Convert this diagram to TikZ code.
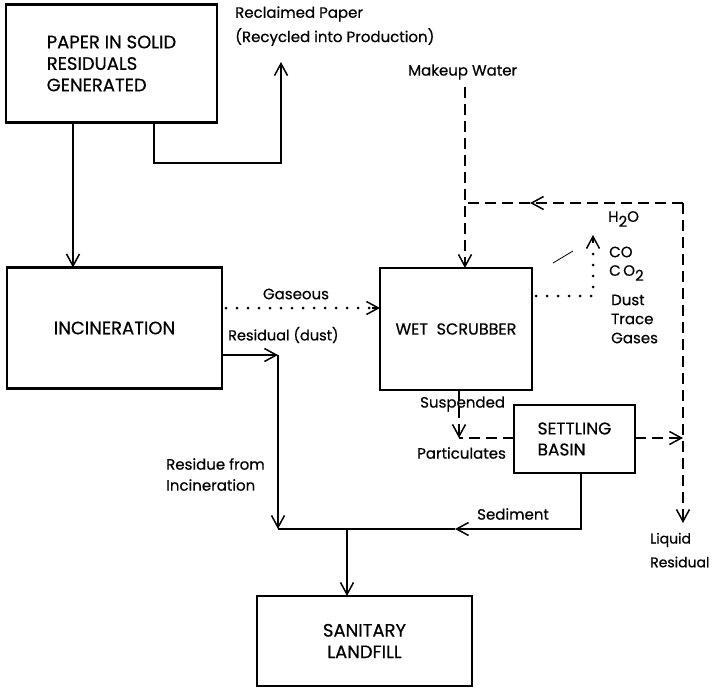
\documentclass[tikz,border=0pt]{standalone}
\usepackage{fontspec}
\setmainfont{Poppins}[FakeBold=0.5]
\usetikzlibrary{arrows.meta}
\begin{document}
\begin{tikzpicture}[x=1pt,y=-1pt,
  box/.style={draw, line width=2.2pt, inner sep=0pt, outer sep=0pt, align=left,
    font=\fontsize{18}{21.5}\selectfont},
  lbl/.style={font=\fontsize{15}{21}\selectfont, inner sep=0pt, anchor=west},
  tip/.style={-{Straight Barb[length=12pt,width=13pt,line width=1.5pt]}},
  solidc/.style={line width=1.3pt},
  dashc/.style={line width=1.4pt, dash pattern=on 11pt off 6pt},
  dotc/.style={line width=3pt, line cap=round, dash pattern=on 0pt off 11pt},
]
\useasboundingbox (0,0) rectangle (716,688);

% boxes
\node[box, minimum width=211pt, minimum height=118pt] (paper) at (111.5,63.5)
  {PAPER IN SOLID\\RESIDUALS\\GENERATED};
\node[box, minimum width=215pt, minimum height=121pt] (incin) at (114.5,328)
  {INCINERATION};
\node[box, font=\fontsize{16}{20}\selectfont, minimum width=152pt, minimum height=122pt] (scrub) at (456,329)
  {WET\ \ SCRUBBER};
\node[box, font=\fontsize{17}{21}\selectfont, minimum width=121pt, minimum height=68pt] (basin) at (574.5,439)
  {SETTLING\\BASIN};
\node[box, align=center, minimum width=215pt, minimum height=90pt] (land) at (364.5,641)
  {SANITARY\\LANDFILL};

% coordinates
\coordinate (xa) at (73,0);
\coordinate (xr) at (154,0);
\coordinate (rc1) at (154,163);
\coordinate (rc2) at (281,163);
\coordinate (rtop) at (281,62);
\coordinate (ygas) at (0,308);
\coordinate (gs) at (226,308);
\coordinate (ga) at (372,308);
\coordinate (ydust) at (0,355);
\coordinate (dj) at (278,355);
\coordinate (dbot) at (278,529);
\coordinate (xs) at (581,0);
\coordinate (sc) at (581,529);
\coordinate (sarr) at (455,529);
\coordinate (xl) at (347,0);
\coordinate (lj) at (347,529);
\coordinate (sg) at (536,296);
\coordinate (gc) at (593,296);
\coordinate (gb) at (593,243);
\coordinate (gtop) at (593,235);
\coordinate (mw) at (465,87);
\coordinate (rw) at (683,203);
\coordinate (rarr) at (530,203);
\coordinate (rj) at (465,203);
\coordinate (liq) at (683,523);
\coordinate (xsu) at (459,0);
\coordinate (sp) at (459,438);
\coordinate (bj) at (683,438);

% solid connectors
\draw[solidc, tip] (paper.south -| xa) -- (incin.north -| xa);
\draw[solidc, tip] (paper.south -| xr) -- (rc1) -- (rc2) -- (rtop);
\draw[solidc, tip] (incin.east |- ydust) -- (dj);
\draw[solidc, tip] (dj) -- (dbot);
\draw[solidc, tip] (basin.south -| xs) -- (sc) -- (sarr);
\draw[solidc] (sarr) -- (dbot);
\draw[solidc, tip] (lj) -- (land.north -| xl);

% dotted connectors
\draw[dotc] (gs) -- (ga);
\draw[solidc, tip] (ga) -- (scrub.west |- ygas);
\draw[dotc] (sg) -- (gc) -- (gb);
\draw[solidc, tip] (gb) -- (gtop);

% dashed connectors
\draw[dashc, tip] (mw) -- (scrub.north -| mw);
\draw[dashc, tip] (rw) -- (rarr);
\draw[dashc] (rarr) -- (rj);
\draw[dashc, tip] (rw) -- (liq);
\draw[dashc, tip] (scrub.south -| xsu) -- (sp);
\draw[dashc] (basin.west |- sp) -- (sp);
\draw[dashc, tip] (basin.east |- sp) -- (bj);

% stray tick
\draw[line width=0.8pt] (553,263) -- (573,251);

% labels
\node[lbl] (l1) at (235,14) {Reclaimed Paper};
\node[lbl] (l2) at (235,37) {(Recycled into Production)};
\node[lbl] (l3) at (408,72) {Makeup Water};
\node[lbl, anchor=center] (l4) at (296,294) {Gaseous};
\node[lbl, font=\fontsize{14.5}{20}\selectfont] (l5) at (228,335) {Residual (dust)};
\node[lbl, align=left, anchor=north west] (l6) at (166,458) {Residue from\\Incineration};
\node[lbl] (l7) at (477,514) {Sediment};
\node[lbl] (l8) at (420,404) {Suspended};
\node[lbl] (l9) at (417,453) {Particulates};
\node[lbl] (g1) at (608,219) {H\raisebox{-5pt}{2}O};
\node[lbl] (g2) at (609,252) {CO};
\node[lbl] (g3) at (609,273) {C\,O\raisebox{-5pt}{2}};
\node[lbl] (g4) at (611,300) {Dust};
\node[lbl] (g5) at (611,319) {Trace};
\node[lbl] (g6) at (611,338) {Gases};
\node[lbl, font=\fontsize{14}{20}\selectfont] (q1) at (650,540) {Liquid};
\node[lbl, font=\fontsize{14}{20}\selectfont] (q2) at (650,562) {Residual};
\end{tikzpicture}
\end{document}
